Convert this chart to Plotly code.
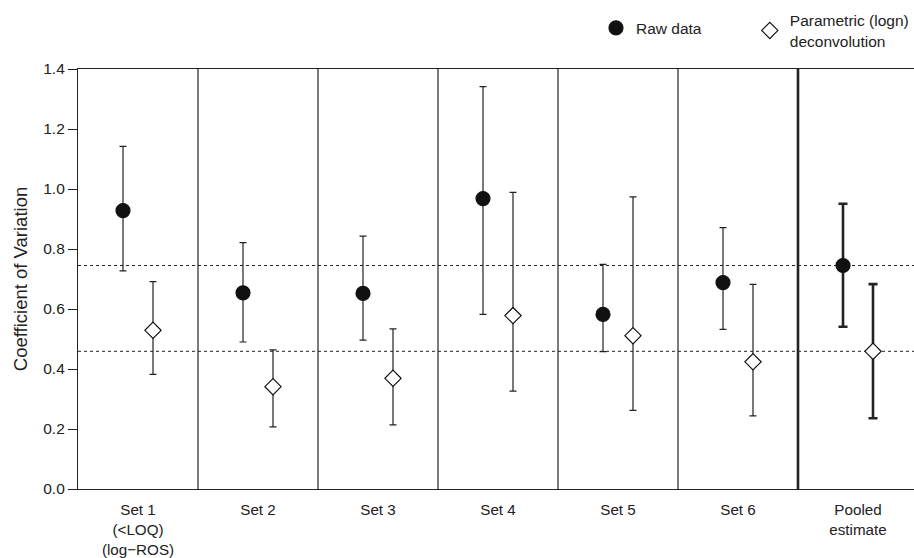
import plotly.graph_objects as go

categories = ["Set 1<br>(&lt;LOQ)<br>(log−ROS)", "Set 2", "Set 3", "Set 4", "Set 5", "Set 6", "Pooled<br>estimate"]

raw_cv = [0.928, 0.654, 0.652, 0.968, 0.582, 0.688]
raw_upper = [1.142, 0.821, 0.843, 1.341, 0.749, 0.871]
raw_lower = [0.727, 0.490, 0.496, 0.582, 0.458, 0.532]

par_cv = [0.529, 0.341, 0.369, 0.578, 0.511, 0.424]
par_upper = [0.691, 0.464, 0.534, 0.989, 0.974, 0.682]
par_lower = [0.382, 0.207, 0.214, 0.326, 0.262, 0.244]

pooled_raw = 0.745
pooled_raw_upper = 0.951
pooled_raw_lower = 0.541
pooled_par = 0.459
pooled_par_upper = 0.683
pooled_par_lower = 0.236

y_ticks = [0.0, 0.2, 0.4, 0.6, 0.8, 1.0, 1.2, 1.4]

FONT = "Liberation Sans, Arial, sans-serif"
INK = "#222222"
FS = 15.5
RAW_OFF = 0.375
PAR_OFF = 0.625

n_sets = len(raw_cv)
x_raw = [i + RAW_OFF for i in range(n_sets)]
x_par = [i + PAR_OFF for i in range(n_sets)]

fig = go.Figure()

def add_points(x, y, up, lo, name, symbol, fill, size, thick, width, showlegend, legend):
    fig.add_trace(go.Scatter(
        x=x, y=y, mode="markers", name=name, showlegend=showlegend, legendgroup=name,
        legend=legend,
        marker=dict(symbol=symbol, size=size, color=fill, line=dict(color="#111111", width=1.2)),
        error_y=dict(type="data", symmetric=False,
                     array=[u - v for u, v in zip(up, y)],
                     arrayminus=[v - l for v, l in zip(y, lo)],
                     color=INK, thickness=thick, width=width),
    ))

RAW_NAME = "Raw data"
PAR_NAME = "Parametric (logn)<br>deconvolution"
add_points(x_raw, raw_cv, raw_upper, raw_lower, RAW_NAME, "circle", "#111111", 14, 1.2, 3.5, True, "legend")
add_points(x_par, par_cv, par_upper, par_lower, PAR_NAME, "diamond", "white", 12.5, 1.2, 3.5, True, "legend2")
add_points([n_sets + RAW_OFF], [pooled_raw], [pooled_raw_upper], [pooled_raw_lower], RAW_NAME, "circle", "#111111", 14, 2.6, 4.5, False, "legend")
add_points([n_sets + PAR_OFF], [pooled_par], [pooled_par_upper], [pooled_par_lower], PAR_NAME, "diamond", "white", 12.5, 2.6, 4.5, False, "legend2")

# group separators
for i in range(1, len(categories)):
    fig.add_shape(type="line", xref="x", yref="y", x0=i, x1=i, y0=0, y1=1.4, layer="below",
                  line=dict(color=INK, width=2.6 if i == len(categories) - 1 else 1.2))

# dotted reference lines at pooled estimates
for v in [pooled_raw, pooled_par]:
    fig.add_shape(type="line", xref="paper", yref="y", x0=0, x1=1, y0=v, y1=v, layer="below",
                  line=dict(color=INK, width=1, dash="dot"))

legend_common = dict(xanchor="left", yanchor="middle", font=dict(size=FS, color=INK),
                     bgcolor="rgba(0,0,0,0)", orientation="h")

fig.update_layout(
    width=914, height=558,
    margin=dict(l=78, r=0, t=69, b=69, autoexpand=False),
    plot_bgcolor="white", paper_bgcolor="white",
    font=dict(family=FONT, size=FS, color=INK),
    legend=dict(x=0.6196, y=1.097, **legend_common),
    legend2=dict(x=0.8036, y=1.091, **legend_common),
    xaxis=dict(range=[0, 836 / 120], tickmode="array", automargin=False,
               tickvals=[i + 0.5 for i in range(len(categories))], ticktext=categories,
               showline=True, mirror=True, linecolor=INK, linewidth=1.2,
               showgrid=False, zeroline=False, ticks="outside", ticklen=7,
               tickcolor="rgba(0,0,0,0)", tickfont=dict(size=15.2)),
    yaxis=dict(range=[0, 1.4], tickmode="array", tickvals=y_ticks, automargin=False,
               ticktext=[f"{t:.1f}" for t in y_ticks],
               showline=True, mirror=False, linecolor=INK, linewidth=1.2,
               showgrid=False, zeroline=False, ticks="outside", ticklen=9, tickwidth=1.2,
               tickcolor=INK,
               title=dict(text="Coefficient of Variation", font=dict(size=18.5), standoff=10)),
)

fig.write_html("out.html", config={"displayModeBar": False},
               post_script="document.body.style.margin='0px';")
